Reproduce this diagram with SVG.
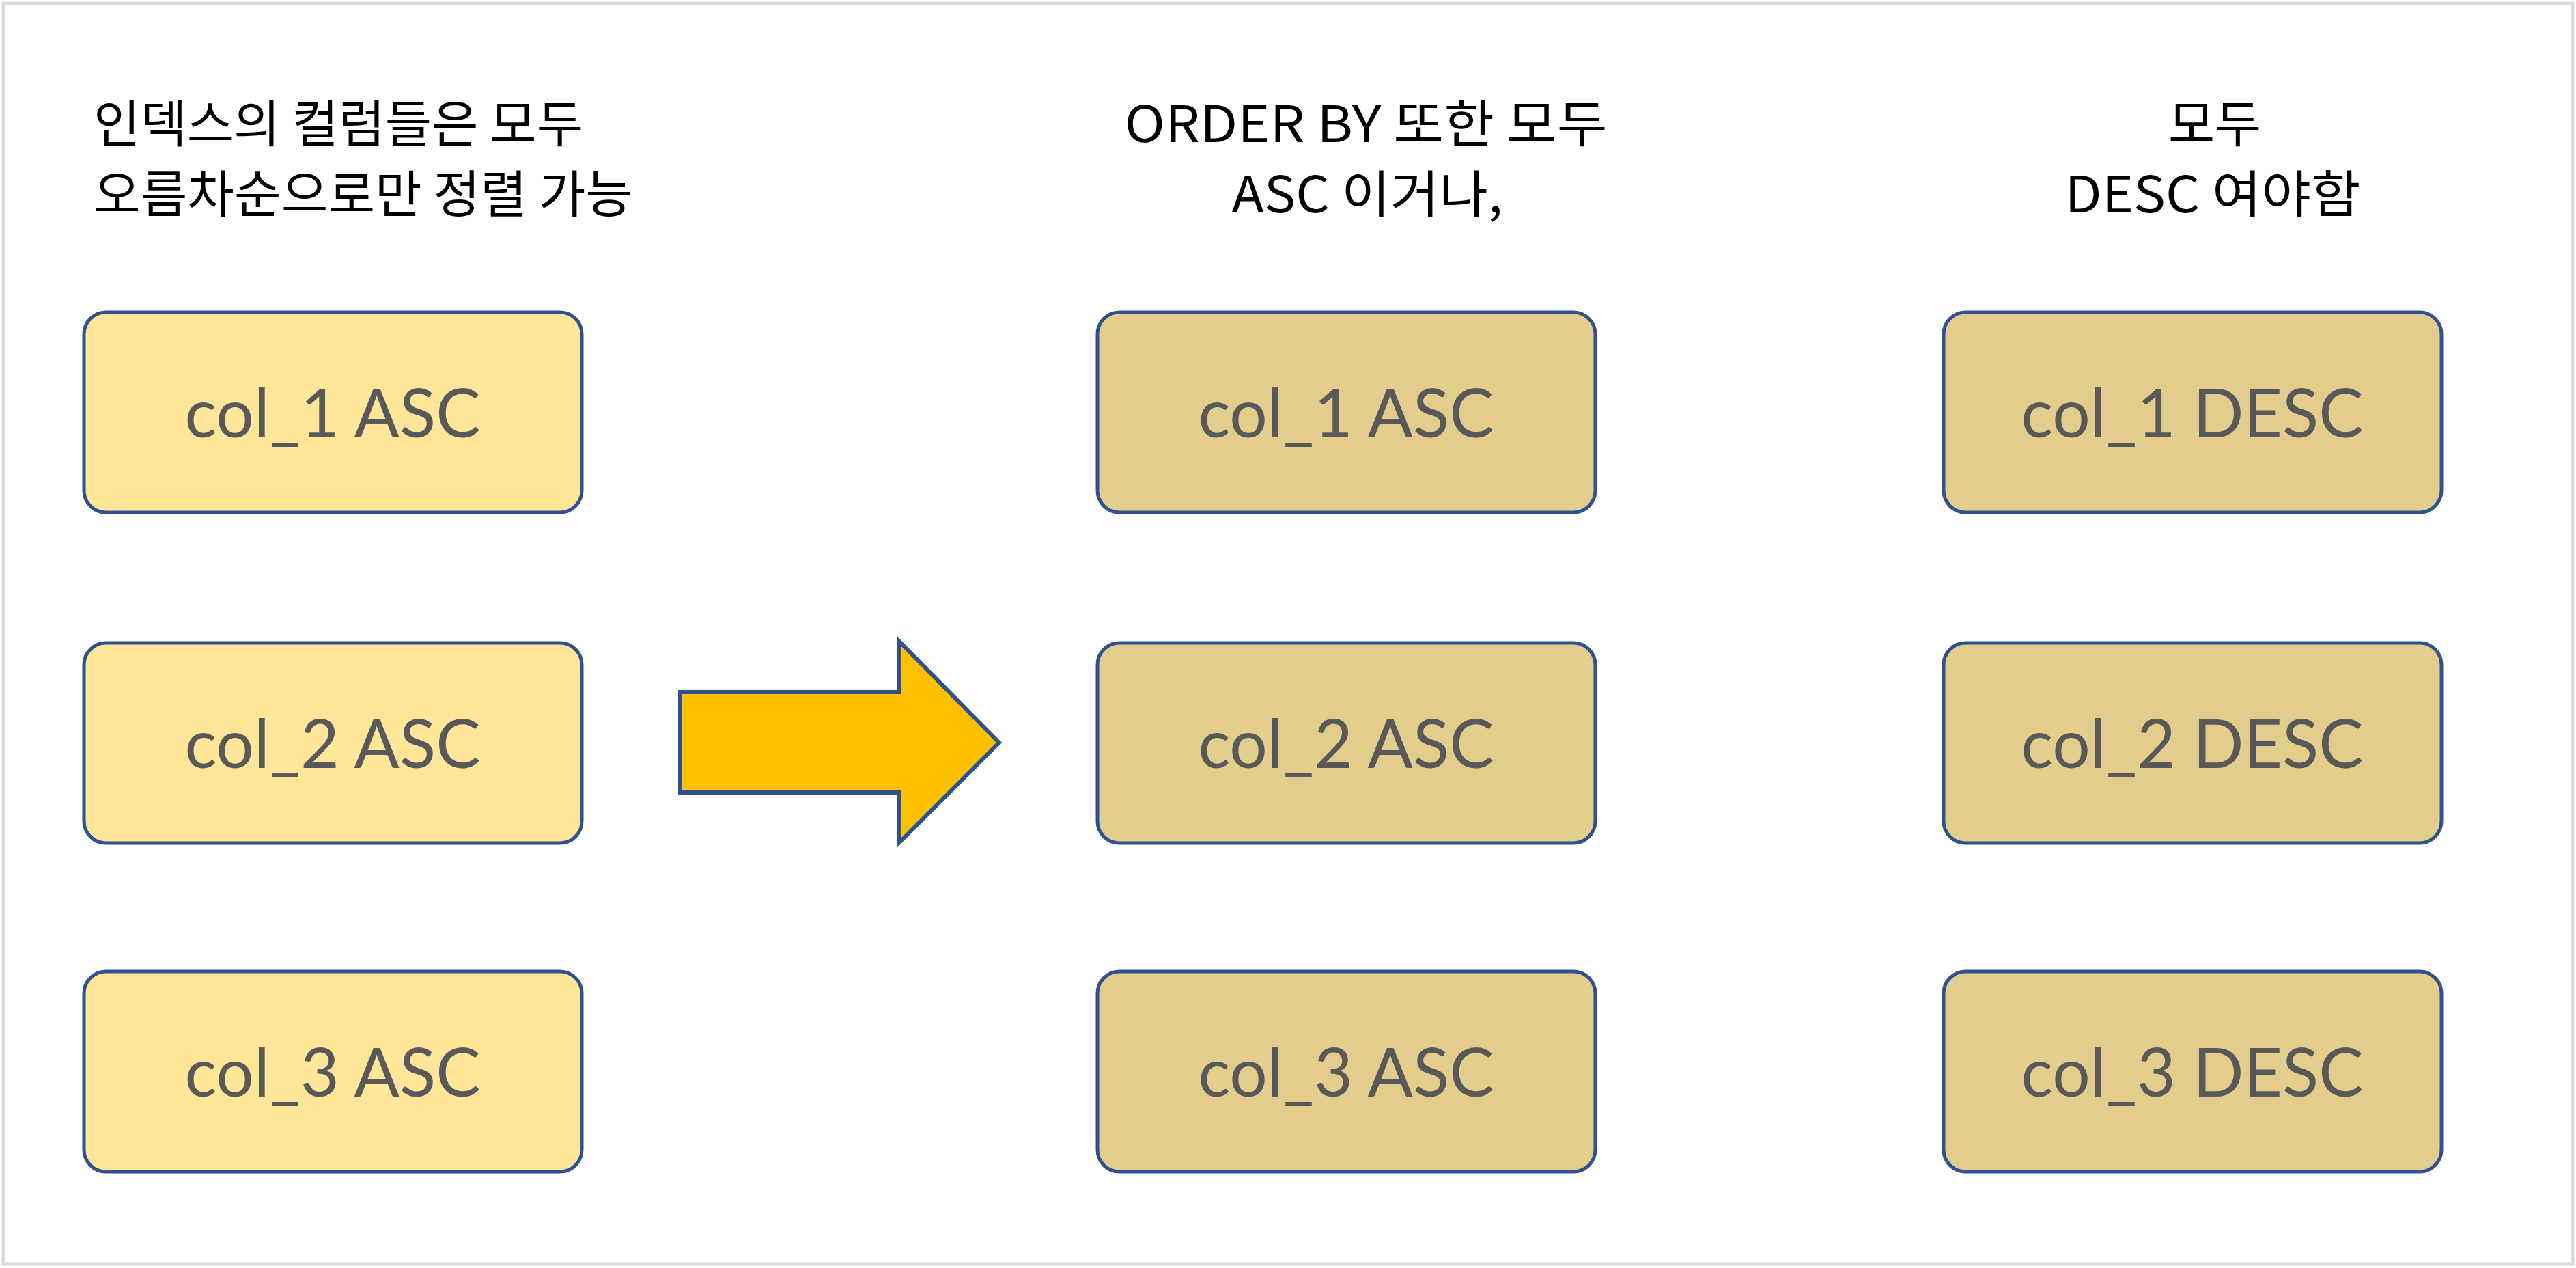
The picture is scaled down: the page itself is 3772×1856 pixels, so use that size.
<svg xmlns="http://www.w3.org/2000/svg" width="3772" height="1856" viewBox="0 0 3772 1856">
<style>
.frame{fill:#ffffff;stroke:#d9d9d9;stroke-width:5}
.box{stroke:#2f528f;stroke-width:5}
.asc{fill:#ffe699}
.mid{fill:#e2cd8c}
.lbl{font-family:Lato,"Open Sans","Liberation Sans",sans-serif;font-size:98px;fill:#595959;text-anchor:middle}
.title{font-family:"Noto Sans CJK KR","Noto Sans",sans-serif;font-size:74px;fill:#000000}
.arrow{fill:#ffc000;stroke:#2f528f;stroke-width:6}
</style>
<rect class="frame" x="5" y="5" width="3762" height="1845"/>
<g id="title-left">
<text class="title" x="137" y="208" textLength="717" lengthAdjust="spacingAndGlyphs">인덱스의 컬럼들은 모두</text>
<text class="title" x="137" y="311" textLength="789" lengthAdjust="spacingAndGlyphs">오름차순으로만 정렬 가능</text>
</g>
<g id="title-mid">
<text class="title" x="2000" y="208" text-anchor="middle" textLength="707" lengthAdjust="spacingAndGlyphs">ORDER BY 또한 모두</text>
<text class="title" x="2002" y="311" text-anchor="middle" textLength="397" lengthAdjust="spacingAndGlyphs">ASC 이거나,</text>
</g>
<g id="title-right">
<text class="title" x="3243" y="208" text-anchor="middle">모두</text>
<text class="title" x="3240" y="311" text-anchor="middle" textLength="433" lengthAdjust="spacingAndGlyphs">DESC 여야함</text>
</g>
<g id="l1"><rect class="box asc" x="123" y="457" width="729" height="293" rx="32"/><text class="lbl" x="487" y="640">col_1 ASC</text></g>
<g id="l2"><rect class="box asc" x="123" y="941" width="729" height="293" rx="32"/><text class="lbl" x="487" y="1124">col_2 ASC</text></g>
<g id="l3"><rect class="box asc" x="123" y="1422" width="729" height="293" rx="32"/><text class="lbl" x="487" y="1605">col_3 ASC</text></g>
<g id="m1"><rect class="box mid" x="1607" y="457" width="729" height="293" rx="32"/><text class="lbl" x="1971" y="640">col_1 ASC</text></g>
<g id="m2"><rect class="box mid" x="1607" y="941" width="729" height="293" rx="32"/><text class="lbl" x="1971" y="1124">col_2 ASC</text></g>
<g id="m3"><rect class="box mid" x="1607" y="1422" width="729" height="293" rx="32"/><text class="lbl" x="1971" y="1605">col_3 ASC</text></g>
<g id="r1"><rect class="box mid" x="2846" y="457" width="729" height="293" rx="32"/><text class="lbl" x="3210" y="640">col_1 DESC</text></g>
<g id="r2"><rect class="box mid" x="2846" y="941" width="729" height="293" rx="32"/><text class="lbl" x="3210" y="1124">col_2 DESC</text></g>
<g id="r3"><rect class="box mid" x="2846" y="1422" width="729" height="293" rx="32"/><text class="lbl" x="3210" y="1605">col_3 DESC</text></g>
<g id="connectors">
<path class="arrow" d="M996,1013 H1316 V938 L1463,1087 L1316,1234 V1160 H996 Z"/>
</g>
</svg>
